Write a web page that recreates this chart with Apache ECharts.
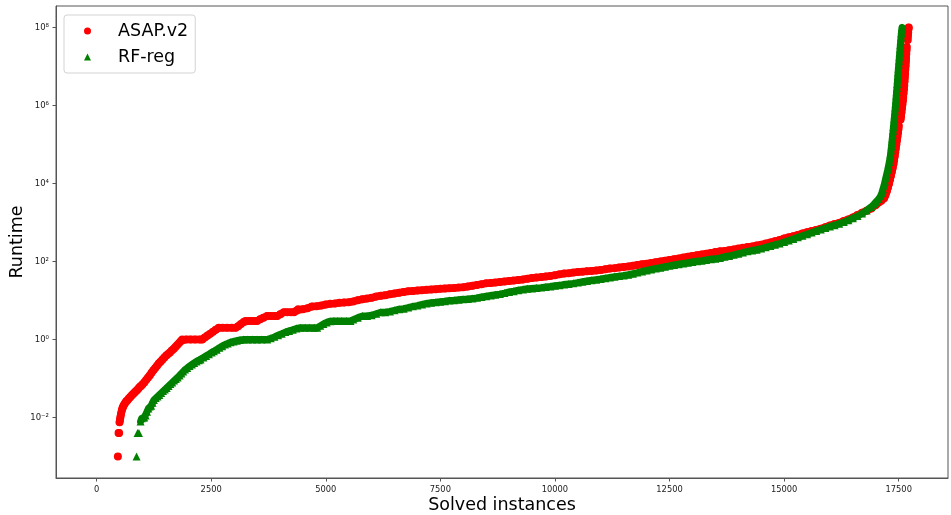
<!DOCTYPE html>
<html>
<head>
<meta charset="utf-8">
<script src="https://cdn.jsdelivr.net/npm/echarts@6/dist/echarts.min.js"></script>
<style>html,body{margin:0;padding:0;background:#fff}#chart{width:951px;height:515px}</style>
</head>
<body>
<div id="chart"></div>
<script>
const seriesNames = ['ASAP.v2', 'RF-reg'];
const xTickValues = [0, 2500, 5000, 7500, 10000, 12500, 15000, 17500];
const yTickValues = [1e-2, 1, 1e2, 1e4, 1e6, 1e8];

// ASAP.v2: solved-instance rank and runtime
const asapRank = [
  465,480,492,502,512,522,535,550,565,580,
  596,620,645,670,700,730,760,790,820,850,
  880,910,940,970,1000,1040,1080,1120,1160,1200,
  1240,1280,1320,1360,1400,1440,1480,1520,1560,1600,
  1640,1680,1720,1760,1800,1840,1870,1950,2050,2150,
  2250,2305,2360,2420,2480,2540,2600,2668,2750,2850,
  2950,3032,3090,3150,3210,3250,3330,3420,3500,3570,
  3640,3722,3800,3880,3940,4010,4086,4160,4240,4304,
  4360,4400,4500,4600,4700,4800,4900,5000,5100,5200,
  5300,5400,5500,5600,5700,5800,5900,6000,6100,6200,
  6300,6400,6500,6600,6700,6800,6900,7000,7100,7200,
  7300,7400,7500,7600,7700,7800,7900,8000,8100,8200,
  8300,8400,8500,8600,8700,8800,8900,9000,9100,9200,
  9300,9400,9500,9600,9700,9800,9900,10000,10100,10200,
  10300,10400,10500,10600,10700,10800,10900,11000,11100,11200,
  11300,11400,11500,11600,11700,11800,11900,12000,12100,12200,
  12300,12400,12500,12600,12700,12800,12900,13000,13100,13200,
  13300,13400,13500,13600,13700,13800,13900,14000,14100,14200,
  14300,14400,14500,14600,14700,14800,14900,15000,15100,15200,
  15300,15400,15500,15600,15700,15800,15900,16000,16100,16200,
  16300,16400,16500,16600,16700,16800,16900,17000,17060,17120,
  17180,17210,17240,17265,17290,17310,17330,17350,17368,17386,
  17400,17412,17424,17436,17448,17460,17472,17484,17494,17500,
  17540,17550,17560,17570,17580,17590,17598,17606,17614,17620,
  17626,17632,17638,17644,17650,17655,17660,17665,17670,17674,
  17695,17700,17706,17712,17717
];
const asapRuntime = [
  0.001,0.004,0.004,0.00759,0.00891,0.0105,0.0126,0.0151,0.0174,0.0191,
  0.0209,0.0234,0.0257,0.0275,0.0302,0.0331,0.0363,0.0398,0.0427,0.0468,
  0.0501,0.055,0.0603,0.0646,0.0708,0.0794,0.0912,0.105,0.12,0.141,
  0.162,0.186,0.214,0.245,0.275,0.309,0.347,0.389,0.427,0.468,
  0.525,0.575,0.646,0.724,0.813,0.912,1,1,1,1,
  1,1,1.12,1.26,1.41,1.58,1.78,2,2,2,
  2,2,2.19,2.51,2.82,3,3,3,3,3.31,
  3.63,4,4,4,4,4.47,5,5,5,5,
  5.5,6,6,6.3,7,7.1,7.4,7.9,8.2,8.4,
  8.7,8.9,9,9.5,10.2,10.8,11.2,11.7,12.6,13.2,
  13.6,14.5,15.1,15.8,16.6,17.2,17.6,18,18.4,18.8,
  19.1,19.5,20,20.4,20.7,20.9,21.4,21.9,22.9,24,
  25.1,26.3,27.5,28.2,28.8,29.9,30.9,31.6,32.4,33.5,
  34.7,36.3,37.6,38.9,39.8,41.2,42.7,44.7,46.8,49,
  50.1,51.9,53.7,55,56.2,57.5,58.9,60.3,63.1,66.1,
  67.6,70,72.4,75,77.6,81.3,85.1,88.1,91.2,95.5,
  100,105,110,115,120,126,132,138,145,151,
  158,166,174,182,186,195,204,214,224,234,
  243,257,269,288,309,331,355,389,417,447,
  479,525,562,603,646,692,759,832,912,977,
  1096,1202,1349,1549,1778,1995,2291,2818,3236,3631,
  4169,5012,6310,7943,1e4,1.26e4,1.58e4,2e4,2.51e4,3.16e4,
  3.98e4,5.01e4,6.31e4,7.94e4,1e5,1.26e5,1.58e5,2e5,2.51e5,3e5,
  4.37e5,5.25e5,6.61e5,8.32e5,1.05e6,1.32e6,1.66e6,2.09e6,2.63e6,3.31e6,
  4.17e6,5.25e6,6.61e6,8.32e6,1.05e7,1.32e7,1.66e7,2.09e7,2.63e7,3.16e7,
  4.79e7,6.03e7,7.59e7,9.12e7,1e8
];

// RF-reg: solved-instance rank and runtime
const rfRank = [
  872,895,925,960,985,1010,1040,1070,1100,1130,
  1160,1190,1220,1250,1290,1330,1370,1410,1450,1490,
  1530,1570,1610,1650,1690,1730,1770,1810,1850,1890,
  1930,1978,2030,2080,2130,2180,2230,2268,2330,2390,
  2450,2510,2559,2620,2680,2740,2800,2860,2923,2990,
  3060,3130,3213,3300,3400,3500,3600,3723,3800,3880,
  3960,4040,4120,4200,4280,4360,4449,4550,4650,4750,
  4813,4880,4950,5020,5100,5177,5260,5350,5450,5540,
  5600,5700,5800,5900,6000,6100,6200,6300,6400,6500,
  6600,6700,6800,6900,7000,7100,7200,7300,7400,7500,
  7600,7700,7800,7900,8000,8100,8200,8300,8400,8500,
  8600,8700,8800,8900,9000,9100,9200,9300,9400,9500,
  9600,9700,9800,9900,10000,10100,10200,10300,10400,10500,
  10600,10700,10800,10900,11000,11100,11200,11300,11400,11500,
  11600,11700,11800,11900,12000,12100,12200,12300,12400,12500,
  12600,12700,12800,12900,13000,13100,13200,13300,13400,13500,
  13600,13700,13800,13900,14000,14100,14200,14300,14400,14500,
  14600,14700,14800,14900,15000,15100,15200,15300,15400,15500,
  15600,15700,15800,15900,16000,16100,16200,16300,16400,16500,
  16600,16700,16800,16900,16960,17000,17060,17100,17130,17155,
  17180,17200,17220,17240,17260,17278,17295,17310,17322,17332,
  17342,17350,17360,17368,17377,17385,17393,17402,17410,17418,
  17426,17433,17440,17447,17454,17461,17468,17474,17480,17487,
  17494,17501,17508,17515,17522,17529,17536,17543,17550,17558,
  17566,17572
];
const rfRuntime = [
  0.001,0.004,0.004,0.00794,0.00955,0.01,0.01,0.0112,0.0141,0.017,
  0.0191,0.02,0.024,0.0282,0.0316,0.0347,0.038,0.0427,0.0479,0.0525,
  0.0575,0.0646,0.0724,0.0794,0.0891,0.0977,0.107,0.12,0.135,0.151,
  0.17,0.186,0.209,0.229,0.251,0.275,0.295,0.309,0.347,0.38,
  0.417,0.468,0.501,0.55,0.617,0.676,0.741,0.794,0.851,0.891,
  0.933,0.977,1,1,1,1,1,1,1.07,1.17,
  1.29,1.41,1.55,1.66,1.78,1.91,2,2,2,2,
  2,2.24,2.51,2.75,2.95,3,3,3,3,3,
  3.24,3.63,3.98,4,4.17,4.57,5,5,5.25,5.62,
  6,6.17,6.61,7.08,7.41,7.94,8.41,8.81,9.02,9.33,
  9.55,10,10.2,10.5,10.7,11,11.2,11.7,12.3,12.9,
  13.5,14,14.6,15.5,16.6,17.4,18.4,19.1,20,20.4,
  20.9,21.4,22.1,22.9,24,24.5,25.7,26.6,27.5,28.8,
  30.2,31.6,33.1,34.3,35.5,37.2,38.9,40.7,42.2,43.7,
  45.7,48.4,51.9,55.6,58.9,62.4,66.1,69.2,73.3,77.6,
  81.3,85.1,89.1,93.3,97.7,102,105,110,114,117,
  123,132,138,148,158,170,182,191,200,214,
  232,248,269,288,316,343,376,417,457,501,
  550,603,661,724,794,851,933,1023,1148,1288,
  1462,1698,2042,2512,2951,3311,3981,4677,5623,7079,
  8913,1.12e4,1.41e4,1.78e4,2.24e4,2.82e4,3.55e4,4.47e4,5.62e4,7.08e4,
  8.91e4,1.12e5,1.41e5,1.78e5,2.24e5,2.82e5,3.55e5,4.47e5,5.62e5,7.08e5,
  8.91e5,1.12e6,1.41e6,1.78e6,2.24e6,2.82e6,3.55e6,4.47e6,5.62e6,7.08e6,
  8.91e6,1.12e7,1.41e7,1.78e7,2.24e7,2.82e7,3.55e7,4.47e7,5.62e7,7.08e7,
  8.91e7,1e8
];

function toPairs(xs, ys) { return xs.map(function (x, i) { return [x, ys[i]]; }); }
// Same points, joined into a smooth band; the band is broken wherever the
// plotted points themselves leave a visible vertical gap.
function bandPairs(points) {
  const out = [];
  points.forEach(function (p, i) {
    if (i > 0 && Math.abs(Math.log10(p[1]) - Math.log10(points[i - 1][1])) > 0.14) {
      out.push([p[0], null]);
    }
    out.push(p);
  });
  return out;
}
const SUP = {'-': '\u207B', '0': '\u2070', '1': '\u00B9', '2': '\u00B2', '3': '\u00B3', '4': '\u2074',
             '5': '\u2075', '6': '\u2076', '7': '\u2077', '8': '\u2078', '9': '\u2079'};
function powerLabel(v) {
  const e = Math.round(Math.log10(v));
  return '10' + String(e).split('').map(function (c) { return SUP[c]; }).join('');
}
function plainLabel(v) { return String(v); }
const FONT = 'DejaVu Sans';
const AXIS_COLOR = '#555';
const asapPoints = toPairs(asapRank, asapRuntime);
const rfPoints = toPairs(rfRank, rfRuntime);

const chart = echarts.init(document.getElementById('chart'), null, {renderer: 'canvas'});
chart.setOption({
  animation: false,
  backgroundColor: '#ffffff',
  grid: {left: 56, right: 3, top: 6, bottom: 37, containLabel: false, outerBoundsMode: 'none',
         show: true, borderColor: AXIS_COLOR, borderWidth: 1, backgroundColor: 'transparent'},
  legend: {
    data: seriesNames,
    orient: 'vertical',
    left: 64, top: 15,
    padding: [7, 7, 7, 20],
    itemWidth: 7, itemHeight: 7, itemGap: 8,
    backgroundColor: '#fff',
    borderColor: '#d3d3d3', borderWidth: 1, borderRadius: 3,
    formatter: '{t|{name}}',
    textStyle: {
      rich: {t: {fontFamily: FONT, fontSize: 17.5, color: '#000', lineHeight: 20, padding: [0, 0, 0, 22]}}
    }
  },
  xAxis: {
    type: 'value', min: -885, max: 18575,
    name: 'Solved instances', nameLocation: 'middle', nameGap: 18, nameMoveOverlap: false,
    nameTextStyle: {fontFamily: FONT, fontSize: 17.5, color: '#000'},
    axisLine: {show: true, onZero: false, lineStyle: {color: AXIS_COLOR, width: 1}},
    axisTick: {show: true, length: 3.5, customValues: xTickValues, lineStyle: {color: AXIS_COLOR}},
    axisLabel: {customValues: xTickValues, formatter: plainLabel, fontFamily: FONT, fontSize: 8.3,
                color: '#222', margin: 8},
    splitLine: {show: false}
  },
  yAxis: {
    type: 'log', logBase: 10, min: Math.pow(10, -3.55), max: Math.pow(10, 8.55),
    name: 'Runtime', nameLocation: 'middle', nameGap: 30, nameMoveOverlap: false,
    nameTextStyle: {fontFamily: FONT, fontSize: 17.5, color: '#000'},
    axisLine: {show: true, onZero: false, lineStyle: {color: AXIS_COLOR, width: 1}},
    axisTick: {show: true, length: 3.5, customValues: yTickValues, lineStyle: {color: AXIS_COLOR}},
    axisLabel: {customValues: yTickValues, formatter: powerLabel, fontFamily: FONT, fontSize: 8.5,
                color: '#222', margin: 7},
    splitLine: {show: false},
    minorTick: {show: false}
  },
  series: [
    {name: 'ASAP.v2 band', type: 'line', showSymbol: false, symbol: 'none', silent: true,
     connectNulls: false, lineStyle: {color: '#ff0000', width: 7.5, join: 'round', cap: 'round'},
     data: bandPairs(asapPoints.slice(3)), z: 1},
    {name: seriesNames[0], type: 'scatter', symbol: 'circle', symbolSize: 8,
     itemStyle: {color: '#ff0000', opacity: 1}, data: asapPoints, z: 2},
    {name: 'RF-reg band', type: 'line', showSymbol: false, symbol: 'none', silent: true,
     connectNulls: false, lineStyle: {color: '#008000', width: 7, join: 'round', cap: 'round'},
     data: bandPairs(rfPoints.slice(3)), z: 3},
    {name: seriesNames[1], type: 'scatter', symbol: 'triangle', symbolSize: 8,
     itemStyle: {color: '#008000', opacity: 1}, data: rfPoints, z: 4}
  ]
});
</script>
</body>
</html>
